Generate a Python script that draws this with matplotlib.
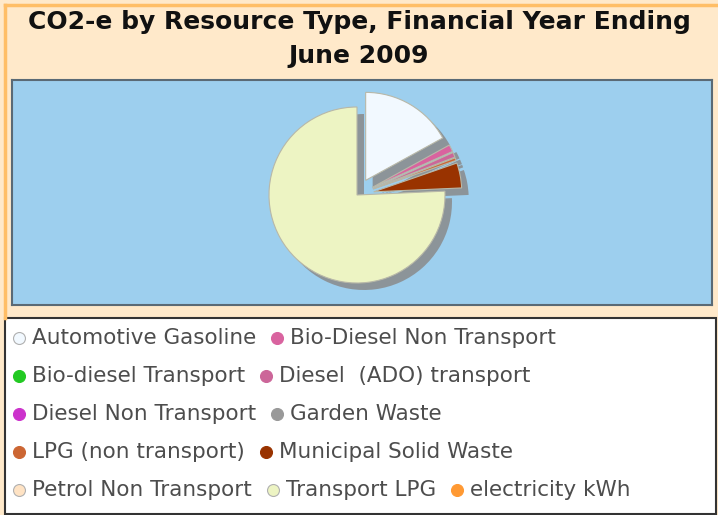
import matplotlib
matplotlib.use('Agg')
import matplotlib.pyplot as plt
from matplotlib.patches import Rectangle
from matplotlib.lines import Line2D

# data (share of CO2-e, %)
resources = ['Automotive Gasoline', 'Bio-Diesel Non Transport', 'Bio-diesel Transport',
             'Diesel  (ADO) transport', 'Diesel Non Transport', 'Garden Waste',
             'LPG (non transport)', 'Municipal Solid Waste', 'Petrol Non Transport',
             'Transport LPG', 'electricity kWh']
co2e = [17.0, 1.3, 0.0, 0.9, 0.0, 0.0, 0.5, 4.6, 0.0, 75.7, 0.0]
colors = ['#F2F9FF', '#D9639F', '#22C922', '#CC6699', '#CC33CC', '#999999',
          '#CC6633', '#993300', '#FFE3C4', '#EDF4C3', '#FF9933']
legend_rows = [[0, 1], [2, 3], [4, 5], [6, 7], [8, 9, 10]]
title = 'CO2-e by Resource Type, Financial Year Ending\nJune 2009'

W, H = 718, 515
fig = plt.figure(figsize=(W / 100, H / 100), dpi=100)
fig.patch.set_facecolor('#FFE9CA')

def fx(x):
    return x / W

def fy(y):
    return 1 - y / H

# orange border on top/left
fig.add_artist(Line2D([fx(5), fx(716)], [fy(5), fy(5)], color='#FFBE66', lw=2.5))
fig.add_artist(Line2D([fx(5), fx(5)], [fy(5), fy(318)], color='#FFBE66', lw=2.5))

fig.text(0.5, fy(39), title, ha='center', va='center', fontsize=18,
         fontweight='bold', color='#111111', linespacing=1.5)

# plot area
ax = fig.add_axes([fx(12), fy(305), (712 - 12) / W, (305 - 80) / H])
ax.set_facecolor('#9DCFEE')
for s in ax.spines.values():
    s.set_color('#5a6a75')
    s.set_linewidth(1.5)

cx, cy, r = 357 - 12, 305 - 195, 88
# explode distance is in data units (pixels here)
explode = [0.0 if v > 50 else 17 for v in co2e]
shadow, _ = ax.pie(co2e, colors=['#8a8a8a'] * len(co2e), startangle=90,
                   counterclock=False, explode=explode, radius=r,
                   center=(cx + 7, cy - 7), frame=True,
                   wedgeprops=dict(linewidth=0, alpha=0.85))
wedges, _ = ax.pie(co2e, colors=colors, startangle=90, counterclock=False,
                   explode=explode, radius=r, center=(cx, cy), frame=True,
                   wedgeprops=dict(linewidth=0.8, edgecolor='#b8b8a8'))
for w, s, v in zip(wedges, shadow, co2e):
    if v == 0:
        w.set_visible(False)
        s.set_visible(False)
ax.set_xlim(0, 700)
ax.set_ylim(0, 225)
ax.set_aspect('equal', adjustable='box')
ax.set_xticks([])
ax.set_yticks([])

# legend box
fig.add_artist(Rectangle((fx(5), fy(514)), (716 - 5) / W, (514 - 318) / H,
                         transform=fig.transFigure, facecolor='white',
                         edgecolor='#333333', lw=1.5))

renderer = fig.canvas.get_renderer()
row_y = [338, 376, 414, 452, 490]
for row, yy in zip(legend_rows, row_y):
    x = 13
    for i in row:
        edge = '#b0b0b0' if i in (0, 8, 9) else colors[i]
        fig.add_artist(Line2D([fx(x + 6)], [fy(yy)], marker='o', markersize=8.6,
                              markerfacecolor=colors[i], markeredgecolor=edge,
                              markeredgewidth=0.8, lw=0))
        t = fig.text(fx(x + 19), fy(yy), resources[i], ha='left', va='center',
                     fontsize=15.5, color='#4d4d4d')
        wpx = t.get_window_extent(renderer).width
        x = x + 19 + wpx + 15

fig.savefig('out.png', dpi=100, facecolor=fig.get_facecolor())
